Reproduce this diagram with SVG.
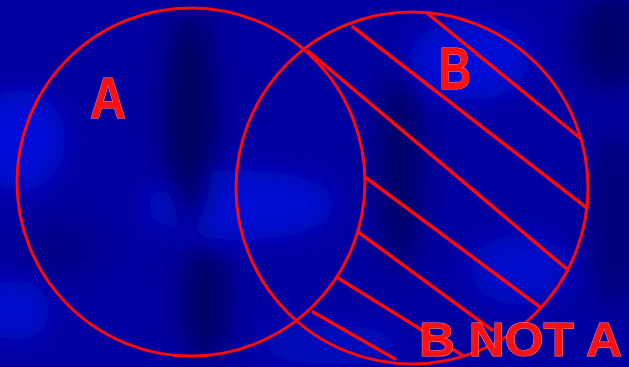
<svg xmlns="http://www.w3.org/2000/svg" width="629" height="367" viewBox="0 0 629 367">
  <defs>
    <filter id="blur" x="-50%" y="-50%" width="200%" height="200%">
      <feGaussianBlur stdDeviation="14"/>
    </filter>
    <style>
      .ring { fill: none; stroke: #ff0a0a; stroke-width: 3; }
      .hatch { fill: none; stroke: #ff0a0a; stroke-width: 3.5; stroke-linecap: round; }
      .label { font-family: "Liberation Sans Narrow", "Liberation Sans", Arial, sans-serif; font-weight: bold; fill: #ff1010; stroke: #ff8a8a; stroke-width: 1; paint-order: stroke; }
    </style>
  </defs>

  <g id="background">
    <rect x="0" y="0" width="629" height="367" fill="#0000a0"/>
    <g filter="url(#blur)">
      <ellipse cx="20" cy="140" rx="45" ry="50" fill="#0010d8"/>
      <ellipse cx="15" cy="310" rx="35" ry="30" fill="#0010d0"/>
      <ellipse cx="240" cy="205" rx="95" ry="35" fill="#0010d4"/>
      <ellipse cx="470" cy="60" rx="60" ry="40" fill="#0010d8"/>
      <ellipse cx="520" cy="270" rx="50" ry="35" fill="#0010cc"/>
      <ellipse cx="330" cy="345" rx="70" ry="20" fill="#0008c0"/>
      <ellipse cx="190" cy="120" rx="25" ry="110" fill="#00005e"/>
      <ellipse cx="205" cy="300" rx="22" ry="60" fill="#000062"/>
      <ellipse cx="400" cy="170" rx="22" ry="100" fill="#000066"/>
      <ellipse cx="610" cy="40" rx="35" ry="50" fill="#00006a"/>
      <ellipse cx="615" cy="220" rx="25" ry="90" fill="#00007a"/>
      <ellipse cx="60" cy="250" rx="40" ry="30" fill="#000088"/>
    </g>
  </g>

  <g id="circle-a">
    <circle class="ring" cx="191" cy="182" r="174"/>
  </g>
  <g id="circle-b">
    <circle class="ring" cx="412" cy="188" r="176"/>
  </g>

  <g id="hatching">
    <line class="hatch" x1="427" y1="13" x2="580" y2="138"/>
    <line class="hatch" x1="353" y1="27" x2="587" y2="208"/>
    <line class="hatch" x1="308" y1="51" x2="568" y2="270"/>
    <line class="hatch" x1="365" y1="177" x2="540" y2="307"/>
    <line class="hatch" x1="358" y1="232" x2="492" y2="330"/>
    <line class="hatch" x1="338" y1="278" x2="462" y2="355"/>
    <line class="hatch" x1="313" y1="312" x2="395" y2="359"/>
  </g>

  <g id="labels">
    <text class="label" x="90" y="118" font-size="57" textLength="36" lengthAdjust="spacingAndGlyphs">A</text>
    <text class="label" x="439" y="89" font-size="60" textLength="32" lengthAdjust="spacingAndGlyphs">B</text>
    <text class="label" x="419" y="356" font-size="48" textLength="203" lengthAdjust="spacingAndGlyphs">B NOT A</text>
  </g>
</svg>
